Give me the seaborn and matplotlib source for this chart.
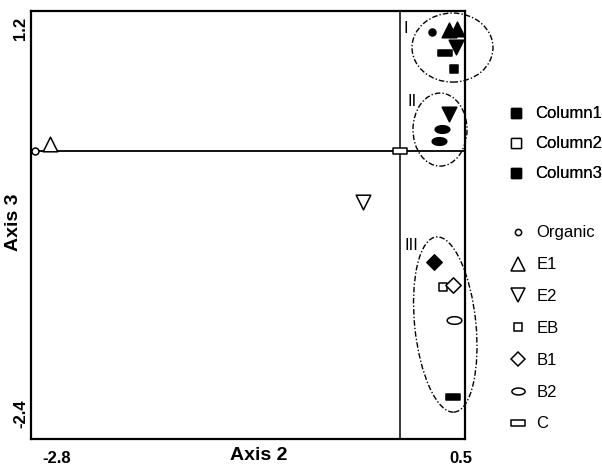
import numpy as np
import pandas as pd
import matplotlib
matplotlib.use("Agg")
import matplotlib.pyplot as plt
import seaborn as sns
from matplotlib.patches import Ellipse
from matplotlib.lines import Line2D
from matplotlib.path import Path

# ---------------- data ----------------
axis2 = [-2.980, -2.857, -0.302, 0.000, 0.351, 0.433, 0.441,
         0.259, 0.400, 0.465, 0.457, 0.367, 0.441,
         0.400, 0.343, 0.318,
         0.278, 0.433]
axis3 = [0.053, 0.118, -0.423, 0.053, -1.215, -1.197, -1.523,
         1.163, 1.181, 1.190, 1.023, 0.967, 0.818,
         0.398, 0.258, 0.151,
         -0.982, -2.241]
horizon = ["Organic", "E1", "E2", "C", "EB", "B1", "B2",
           "Organic", "E1", "E1", "E2", "C", "EB",
           "E2", "B2", "B2",
           "B1", "C"]
filled = [False, False, False, False, False, False, False,
          True, True, True, True, True, True,
          True, True, True,
          True, True]

column_labels = ["Column1", "Column2", "Column3"]
column_filled = [True, False, True]
horizon_labels = ["Organic", "E1", "E2", "EB", "B1", "B2", "C"]

group_labels = ["I", "II", "III"]
group_cx = [0.429, 0.327, 0.370]
group_cy = [1.018, 0.253, -1.565]
group_w = [0.661, 0.441, 0.500]
group_h = [0.644, 0.681, 1.640]
group_angle = [0, 0, 5]
group_text_x = [0.033, 0.060, 0.035]
group_text_y = [1.200, 0.519, -0.824]

origin_x = 0.0
origin_y = 0.053
xticks = [-2.8, 0.5]
yticks = [1.2, -2.4]

df = pd.DataFrame({"axis2": axis2, "axis3": axis3,
                   "horizon": horizon, "filled": filled})

# ---------------- markers ----------------
t = np.linspace(0, 2 * np.pi, 60)
ell_verts = np.column_stack([np.cos(t), 0.52 * np.sin(t)])
ellipse_marker = Path(ell_verts, closed=True)
rect_marker = Path([(-1, -0.45), (1, -0.45), (1, 0.45), (-1, 0.45), (-1, -0.45)],
                   closed=True)

marker_map = {"Organic": "o", "E1": "^", "E2": "v", "EB": "s",
              "B1": "D", "B2": ellipse_marker, "C": rect_marker}
size_map = {"Organic": 5.0, "E1": 10.5, "E2": 10.5, "EB": 6.0,
            "B1": 7.8, "B2": 10.5, "C": 10.5}
legend_size = {"Organic": 4.5, "E1": 9.5, "E2": 9.5, "EB": 5.5,
               "B1": 7.0, "B2": 9.5, "C": 9.5}

# ---------------- figure ----------------
sns.set_style("white")
plt.rcParams["font.family"] = ["Liberation Sans", "DejaVu Sans"]
plt.rcParams["text.color"] = "black"
plt.rcParams["axes.labelcolor"] = "black"
plt.rcParams["xtick.color"] = "black"
plt.rcParams["ytick.color"] = "black"

fig = plt.figure(figsize=(6.02, 4.67), dpi=100)
ax = fig.add_axes([31 / 602, 1 - 438.5 / 467, 434 / 602, 427.5 / 467])

ax.axhline(origin_y, color="black", lw=1.3, zorder=1)
ax.axvline(origin_x, color="black", lw=1.1, zorder=1)

for hz in horizon_labels:
    for fl in [True, False]:
        sub = df[(df.horizon == hz) & (df.filled == fl)]
        if sub.empty:
            continue
        sns.scatterplot(data=sub, x="axis2", y="axis3", ax=ax,
                        marker=marker_map[hz], s=size_map[hz] ** 2,
                        color="black",
                        facecolor="black" if fl else "white",
                        edgecolor="black", linewidth=1.1, zorder=3,
                        legend=False)

for cx, cy, w, h, ang, lab, tx, ty in zip(group_cx, group_cy, group_w, group_h,
                                          group_angle, group_labels,
                                          group_text_x, group_text_y):
    e = Ellipse((cx, cy), w, h, angle=ang, fill=False, edgecolor="black",
                lw=1.0, linestyle=(0, (4, 1.5, 1, 1.5)), clip_on=False, zorder=4)
    ax.add_patch(e)
    ax.text(tx, ty, lab, fontsize=12, ha="left", va="center", color="black")

ax.set_xlim(-3.012, 0.531)
ax.set_ylim(-2.628, 1.359)
ax.set_xticks(xticks)
ax.set_xticklabels([str(v) for v in xticks], fontweight="bold", fontsize=12)
ax.set_yticks(yticks)
ax.set_yticklabels([str(v) for v in yticks], fontweight="bold", fontsize=12,
                   rotation=90, va="center")
ax.tick_params(axis="both", length=0, labelcolor="black")
ax.tick_params(axis="x", pad=9)
ax.tick_params(axis="y", pad=2)
for sp in ax.spines.values():
    sp.set_linewidth(1.6)
    sp.set_color("black")

ax.set_xlabel("Axis 2", fontweight="bold", fontsize=14, va="center", color="black")
ax.xaxis.set_label_coords((259 - 31) / 434, -(455 - 438.5) / 427.5)
ax.set_ylabel("Axis 3", fontweight="bold", fontsize=14, va="center", color="black")
ax.yaxis.set_label_coords(-(31 - 13) / 434, (438.5 - 222) / 427.5)

# ---------------- legends ----------------
h1 = [Line2D([], [], ls="none", marker="s", ms=6.5,
             markerfacecolor="black" if f else "white",
             markeredgecolor="black", mew=1.0) for f in column_filled]
leg1 = fig.legend(h1, column_labels, loc="upper left",
                  bbox_to_anchor=(508 / 602, 1 - 106.5 / 467),
                  frameon=False, fontsize=12, handlelength=1.0,
                  handletextpad=0.62, labelspacing=0.90,
                  borderpad=0, borderaxespad=0, labelcolor="black")
h2 = [Line2D([], [], ls="none", marker=marker_map[hz], ms=legend_size[hz],
             markerfacecolor="white", markeredgecolor="black", mew=1.1)
      for hz in horizon_labels]
leg2 = fig.legend(h2, horizon_labels, loc="upper left",
                  bbox_to_anchor=(510 / 602, 1 - 225.5 / 467),
                  frameon=False, fontsize=12, handlelength=1.0,
                  handletextpad=0.58, labelspacing=1.01,
                  borderpad=0, borderaxespad=0, labelcolor="black")
fig.add_artist(leg1)

fig.savefig("out.png", dpi=100)
